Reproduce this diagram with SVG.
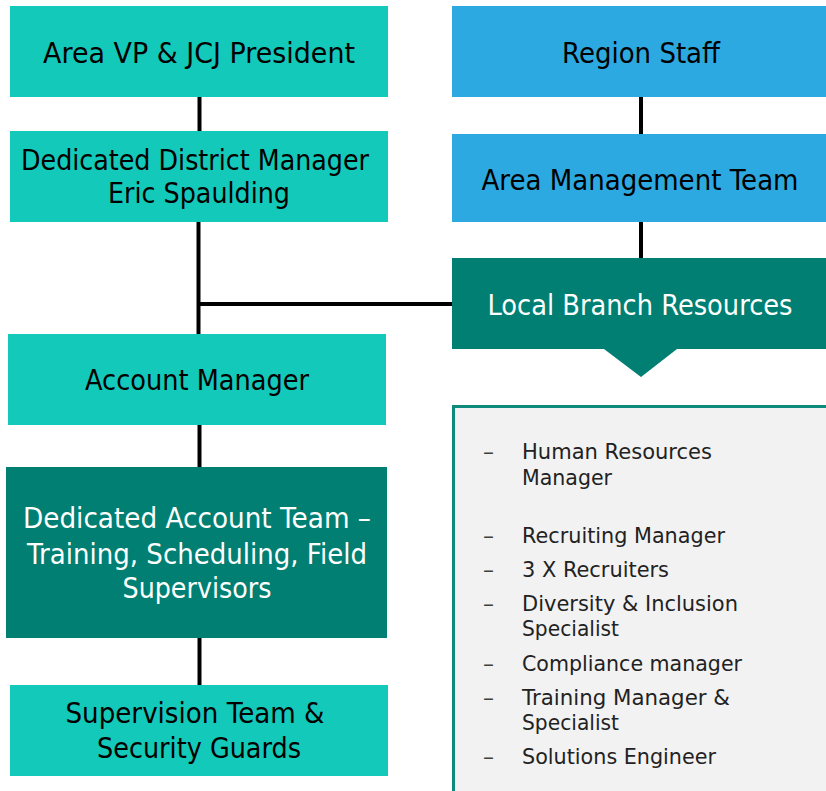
<svg xmlns="http://www.w3.org/2000/svg" width="826" height="791" viewBox="0 0 826 791">
  <style>
    text { font-family: "DejaVu Sans", Verdana, sans-serif; }
    .lt { fill: #13C9B9; }
    .dk { fill: #007F72; }
    .bl { fill: #2DA9E1; }
    .t { font-size: 28.5px; text-anchor: middle; }
    .tb { fill: #000000; }
    .tw { fill: #FFFFFF; }
    .conn { stroke: #000000; stroke-width: 4; fill: none; }
    .li { font-size: 22px; fill: #222222; }
    .dash { font-size: 22px; fill: #404040; }
  </style>
  <rect width="826" height="791" fill="#FFFFFF"/>

  <!-- connectors -->
  <g id="connectors">
    <line class="conn" x1="199.5" y1="96" x2="199.5" y2="132"/>
    <line class="conn" x1="198.5" y1="221" x2="198.5" y2="335"/>
    <line class="conn" x1="197" y1="304" x2="453" y2="304"/>
    <line class="conn" x1="199.5" y1="424" x2="199.5" y2="468"/>
    <line class="conn" x1="199.5" y1="637" x2="199.5" y2="686"/>
    <line class="conn" x1="641" y1="96" x2="641" y2="135"/>
    <line class="conn" x1="641" y1="221" x2="641" y2="259"/>
  </g>

  <g id="area-vp">
    <rect class="lt" x="10" y="6" width="378" height="91"/>
    <text class="t tb" x="199" y="63" textLength="312" lengthAdjust="spacingAndGlyphs">Area VP &amp; JCJ President</text>
  </g>

  <g id="district-manager">
    <rect class="lt" x="10" y="131" width="378" height="91"/>
    <text class="t tb" x="195" y="170" textLength="348" lengthAdjust="spacingAndGlyphs">Dedicated District Manager</text>
    <text class="t tb" x="199" y="203" textLength="182" lengthAdjust="spacingAndGlyphs">Eric Spaulding</text>
  </g>

  <g id="account-manager">
    <rect class="lt" x="8" y="334" width="378" height="91"/>
    <text class="t tb" x="197" y="390" textLength="224" lengthAdjust="spacingAndGlyphs">Account Manager</text>
  </g>

  <g id="account-team">
    <rect class="dk" x="6" y="467" width="381" height="171"/>
    <text class="t tw" x="197" y="528" textLength="348" lengthAdjust="spacingAndGlyphs">Dedicated Account Team –</text>
    <text class="t tw" x="197" y="564" textLength="340" lengthAdjust="spacingAndGlyphs">Training, Scheduling, Field</text>
    <text class="t tw" x="197" y="598" textLength="149" lengthAdjust="spacingAndGlyphs">Supervisors</text>
  </g>

  <g id="supervision-team">
    <rect class="lt" x="10" y="685" width="378" height="91"/>
    <text class="t tb" x="195" y="723" textLength="259" lengthAdjust="spacingAndGlyphs">Supervision Team &amp;</text>
    <text class="t tb" x="199" y="758" textLength="204" lengthAdjust="spacingAndGlyphs">Security Guards</text>
  </g>

  <g id="region-staff">
    <rect class="bl" x="452" y="6" width="374" height="91"/>
    <text class="t tb" x="641" y="63" textLength="158" lengthAdjust="spacingAndGlyphs">Region Staff</text>
  </g>

  <g id="area-management">
    <rect class="bl" x="452" y="134" width="374" height="88"/>
    <text class="t tb" x="640" y="190" textLength="317" lengthAdjust="spacingAndGlyphs">Area Management Team</text>
  </g>

  <g id="local-branch">
    <path class="dk" d="M452 258 H826 V349 H677 L641 377 L604 349 H452 Z"/>
    <text class="t tw" x="640" y="315" textLength="305" lengthAdjust="spacingAndGlyphs">Local Branch Resources</text>
  </g>

  <g id="branch-list">
    <rect x="453.5" y="406.5" width="380" height="400" fill="#F2F2F2" stroke="#0E8A7C" stroke-width="3"/>
    <g class="dash">
      <text x="483" y="459">–</text>
      <text x="483" y="543">–</text>
      <text x="483" y="577">–</text>
      <text x="483" y="611">–</text>
      <text x="483" y="671">–</text>
      <text x="483" y="705">–</text>
      <text x="483" y="764">–</text>
    </g>
    <g class="li">
      <text x="522" y="459" textLength="190" lengthAdjust="spacingAndGlyphs">Human Resources</text>
      <text x="522" y="485" textLength="90" lengthAdjust="spacingAndGlyphs">Manager</text>
      <text x="522" y="543" textLength="203" lengthAdjust="spacingAndGlyphs">Recruiting Manager</text>
      <text x="522" y="577" textLength="147" lengthAdjust="spacingAndGlyphs">3 X Recruiters</text>
      <text x="522" y="611" textLength="216" lengthAdjust="spacingAndGlyphs">Diversity &amp; Inclusion</text>
      <text x="522" y="636" textLength="97" lengthAdjust="spacingAndGlyphs">Specialist</text>
      <text x="522" y="671" textLength="220" lengthAdjust="spacingAndGlyphs">Compliance manager</text>
      <text x="522" y="705" textLength="208" lengthAdjust="spacingAndGlyphs">Training Manager &amp;</text>
      <text x="522" y="730" textLength="97" lengthAdjust="spacingAndGlyphs">Specialist</text>
      <text x="522" y="764" textLength="194" lengthAdjust="spacingAndGlyphs">Solutions Engineer</text>
    </g>
  </g>
</svg>
